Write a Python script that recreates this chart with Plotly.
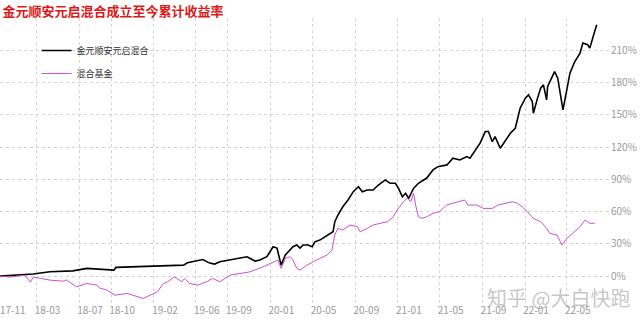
import plotly.graph_objects as go

# ---- data ----
fund_name = "金元顺安元启混合"
mix_name = "混合基金"

fund_dates = [
    "2017-11-16", "2018-02-20", "2018-04-08", "2018-06-13", "2018-07-23", "2018-08-30",
    "2018-10-09", "2018-10-15", "2019-01-21", "2019-04-27", "2019-05-08", "2019-05-29",
    "2019-06-21", "2019-07-11", "2019-07-25", "2019-08-09", "2019-09-07", "2019-10-06",
    "2019-10-26", "2019-11-18", "2019-12-02", "2019-12-22", "2020-01-09", "2020-01-20",
    "2020-02-01", "2020-02-13", "2020-02-27", "2020-03-06", "2020-03-17", "2020-03-26",
    "2020-04-04", "2020-04-18", "2020-04-30", "2020-05-08", "2020-05-22", "2020-06-06",
    "2020-06-20", "2020-06-29", "2020-07-04", "2020-07-13", "2020-07-27", "2020-08-11",
    "2020-08-26", "2020-09-10", "2020-09-21", "2020-10-05", "2020-10-22", "2020-11-06",
    "2020-11-26", "2020-12-10", "2020-12-25", "2021-01-03", "2021-01-14", "2021-01-23",
    "2021-02-01", "2021-02-15", "2021-03-01", "2021-03-25", "2021-04-12", "2021-04-26",
    "2021-05-22", "2021-06-08", "2021-06-28", "2021-07-18", "2021-07-27", "2021-08-11",
    "2021-08-25", "2021-09-09", "2021-09-18", "2021-09-29", "2021-10-07", "2021-10-22",
    "2021-11-06", "2021-11-20", "2021-12-04", "2021-12-12", "2021-12-18", "2022-01-02",
    "2022-01-11", "2022-01-22", "2022-01-25", "2022-02-06", "2022-02-15", "2022-02-23",
    "2022-03-04", "2022-03-07", "2022-03-19", "2022-03-27", "2022-04-05", "2022-04-17",
    "2022-04-20", "2022-05-01", "2022-05-10", "2022-05-24", "2022-06-08", "2022-06-16",
    "2022-06-30", "2022-07-06", "2022-07-12", "2022-07-20", "2022-07-26",
]
fund_vals = [
    0.0, 1.9, 4.0, 4.9, 7.2, 6.2,
    5.6, 8.1, 9.3, 10.2, 12.4, 14.0,
    15.4, 12.1, 11.2, 13.3, 14.9, 16.8,
    18.0, 14.0, 14.9, 18.0, 27.3, 26.1,
    10.2, 19.6, 24.2, 27.3, 28.9, 26.1,
    28.9, 28.9, 27.3, 31.9, 33.5, 36.6,
    39.8, 41.2, 50.6, 56.8, 64.5, 70.8,
    78.5, 83.1, 78.5, 80.1, 80.1, 84.7,
    89.4, 86.3, 86.3, 81.6, 73.8, 77.0,
    72.3, 81.6, 86.3, 91.2, 98.7, 101.8,
    103.4, 109.6, 108.0, 111.1, 109.6, 117.3,
    123.6, 134.4, 134.4, 125.0, 129.7, 118.9,
    126.6, 132.9, 137.5, 148.4, 156.1, 165.5,
    168.5, 162.3, 151.5, 165.5, 174.8, 177.8,
    163.9, 176.3, 184.1, 190.2, 184.1, 160.8,
    154.6, 173.2, 188.7, 199.5, 207.4, 216.7,
    215.1, 212.0, 219.7, 227.5, 233.7,
]

mix_dates = [
    "2017-11-16", "2017-12-15", "2018-01-27", "2018-02-11", "2018-02-20", "2018-03-10",
    "2018-04-08", "2018-05-15", "2018-05-26", "2018-06-24", "2018-07-23", "2018-08-21",
    "2018-08-30", "2018-09-19", "2018-10-12", "2018-11-16", "2018-12-14", "2019-01-01",
    "2019-01-21", "2019-02-11", "2019-02-28", "2019-03-12", "2019-04-01", "2019-04-22",
    "2019-04-30", "2019-05-14", "2019-06-07", "2019-07-02", "2019-07-19", "2019-08-09",
    "2019-09-07", "2019-11-04", "2019-12-02", "2019-12-31", "2020-01-23", "2020-02-01",
    "2020-02-13", "2020-02-27", "2020-03-06", "2020-03-17", "2020-03-26", "2020-04-15",
    "2020-05-02", "2020-05-22", "2020-06-12", "2020-06-26", "2020-07-04", "2020-07-13",
    "2020-07-27", "2020-08-17", "2020-09-07", "2020-09-15", "2020-10-05", "2020-10-22",
    "2020-11-12", "2020-12-02", "2020-12-19", "2020-12-30", "2021-01-17", "2021-01-28",
    "2021-02-07", "2021-02-15", "2021-02-21", "2021-03-01", "2021-03-11", "2021-03-25",
    "2021-04-12", "2021-05-01", "2021-05-21", "2021-06-08", "2021-06-28", "2021-07-12",
    "2021-07-21", "2021-08-16", "2021-09-03", "2021-09-29", "2021-10-16", "2021-11-11",
    "2021-11-26", "2021-12-10", "2021-12-24", "2022-01-08", "2022-01-25", "2022-02-15",
    "2022-03-04", "2022-03-13", "2022-04-03", "2022-04-17", "2022-05-01", "2022-05-18",
    "2022-06-08", "2022-06-22", "2022-07-06", "2022-07-20",
]
mix_vals = [
    0.0, -0.9, 0.9, -5.6, -0.9, -2.1,
    -3.7, -4.7, -3.7, -10.0, -6.8, -8.4,
    -11.2, -13.0, -17.7, -16.1, -19.3, -20.8,
    -17.7, -14.6, -6.8, -5.3, -0.7, -5.3,
    -2.1, -6.8, -8.4, -5.3, -2.1, -5.3,
    0.9, 4.0, 7.4, 11.8, 14.9, 7.2,
    16.5, 18.0, 14.9, 7.2, 5.6, 10.2,
    13.3, 16.5, 19.6, 24.2, 38.2, 44.4,
    42.8, 47.5, 45.9, 41.2, 44.4, 47.5,
    49.1, 50.6, 55.2, 61.5, 69.2, 72.3,
    69.2, 77.0, 66.1, 55.2, 53.7, 55.2,
    58.4, 59.9, 66.1, 67.7, 69.2, 70.8,
    66.1, 66.1, 63.0, 63.0, 66.1, 67.7,
    69.2, 67.7, 64.5, 59.9, 53.7, 50.6,
    44.4, 39.8, 38.2, 28.9, 35.1, 39.8,
    45.9, 52.1, 49.1, 49.1,
]

x_tick_dates = ["2018-03-01", "2018-07-01", "2018-10-01", "2019-02-01", "2019-06-01",
                "2019-09-01", "2020-01-01", "2020-05-01", "2020-09-01", "2021-01-01",
                "2021-05-01", "2021-09-01", "2022-01-01", "2022-05-01"]
x_tick_text = ["18-03", "18-07", "18-10", "19-02", "19-06", "19-09", "20-01", "20-05",
               "20-09", "21-01", "21-05", "21-09", "22-01", "22-05"]
first_tick_text = "17-11"
y_tick_vals = [0, 30, 60, 90, 120, 150, 180, 210]
y_tick_text = [f"{v}%" for v in y_tick_vals]

title_text = "金元顺安元启混合成立至今累计收益率"
watermark = "知乎 @大白快跑"

FONT = "Noto Sans CJK SC"

fig = go.Figure()
fig.add_trace(go.Scatter(
    x=fund_dates, y=fund_vals, mode="lines", name=fund_name, legendgroup="a",
    line=dict(color="#000000", width=1.6),
))
fig.add_trace(go.Scatter(
    x=mix_dates, y=mix_vals, mode="lines", name=mix_name, legendgroup="b",
    line=dict(color="#cc4fcc", width=1),
))

fig.update_layout(
    width=640, height=324,
    margin=dict(l=0, r=30, t=18, b=21),
    paper_bgcolor="white", plot_bgcolor="white",
    font=dict(family=FONT, size=10, color="#999999"),
    title=dict(text=f"<b>{title_text}</b>", x=0.004, xanchor="left", xref="container",
               y=0.965, yanchor="middle", yref="container",
               font=dict(family=FONT, size=13, color="#dd1a1a")),
    showlegend=True,
    legend=dict(x=0.06, xanchor="left", y=0.937, yanchor="top",
                bgcolor="rgba(0,0,0,0)", font=dict(family=FONT, size=9, color="#333333"),
                tracegroupgap=4, traceorder="grouped"),
    xaxis=dict(type="date", range=["2017-11-16", "2022-09-02"],
               tickvals=x_tick_dates, ticktext=x_tick_text,
               showgrid=True, gridcolor="#d4d4d4", griddash="dot", gridwidth=1,
               zeroline=False, showline=False, ticks="",
               tickfont=dict(family=FONT, size=10, color="#999999"),
               ticklabelshift=11),
    yaxis=dict(side="right", range=[-25, 240], tickvals=y_tick_vals, ticktext=y_tick_text,
               showgrid=True, gridcolor="#d4d4d4", griddash="dot", gridwidth=1,
               zeroline=False, showline=False, ticks="",
               tickfont=dict(family=FONT, size=10, color="#999999")),
    annotations=[
        dict(text=first_tick_text, xref="paper", yref="paper", x=0, y=0,
             xanchor="left", yanchor="top", xshift=-2, yshift=3, showarrow=False,
             font=dict(family=FONT, size=10, color="#999999")),
        dict(text=watermark, xref="paper", yref="paper", x=0.795, y=0.02,
             xanchor="left", yanchor="middle", showarrow=False,
             font=dict(family=FONT, size=20, color="rgba(150,150,150,0.55)")),
    ],
)

fig.write_html("out.html")
